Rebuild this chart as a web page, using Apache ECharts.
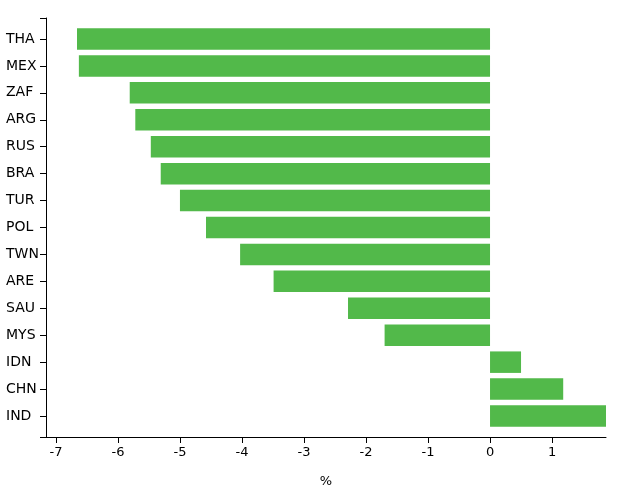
<!DOCTYPE html>
<html>
<head>
<meta charset="utf-8">
<script src="https://cdn.jsdelivr.net/npm/echarts@6/dist/echarts.min.js"></script>
<style>
html,body{margin:0;padding:0;background:#fff;}
#chart{width:627px;height:503px;}
</style>
</head>
<body>
<div id="chart"></div>
<script>
const categories = ['THA','MEX','ZAF','ARG','RUS','BRA','TUR','POL','TWN','ARE','SAU','MYS','IDN','CHN','IND'];
const values = [-6.66,-6.63,-5.81,-5.72,-5.47,-5.31,-5.00,-4.58,-4.03,-3.49,-2.29,-1.70,0.50,1.18,1.87];
const xMin = -7.16;
const xMax = 1.87;
const xName = '%';

const font = 'DejaVu Sans';
const chart = echarts.init(document.getElementById('chart'), null, {renderer: 'canvas'});
chart.setOption({
  animation: false,
  backgroundColor: '#fff',
  grid: [
    {left: 46, right: 21, top: 25.5, bottom: 73.5, containLabel: false},
    {left: 46, right: 21, top: 18, bottom: 66, containLabel: false}
  ],
  xAxis: [
    {gridIndex: 0, type: 'value', min: xMin, max: xMax, show: false},
    {
      gridIndex: 1, type: 'value', min: xMin, max: xMax,
      minInterval: 1, maxInterval: 1,
      position: 'bottom',
      name: xName, nameLocation: 'middle', nameGap: 38,
      nameTextStyle: {color: '#000', fontFamily: font, fontSize: 13},
      axisLine: {show: true, onZero: false, lineStyle: {color: '#000', width: 1}},
      axisTick: {show: true, length: 6, lineStyle: {color: '#000', width: 1}},
      axisLabel: {show: true, showMinLabel: false, showMaxLabel: false, color: '#000', fontFamily: font, fontSize: 13, margin: 9},
      splitLine: {show: false}
    }
  ],
  yAxis: [
    {
      gridIndex: 0, type: 'category', data: categories, inverse: true,
      boundaryGap: true,
      axisLine: {show: false, onZero: false},
      axisTick: {show: true, alignWithLabel: true, length: 6, lineStyle: {color: '#000', width: 1}},
      axisLabel: {color: '#000', fontFamily: font, fontSize: 14, margin: 40, align: 'left'},
      splitLine: {show: false}
    },
    {
      gridIndex: 1, type: 'value', min: 0, max: 1, interval: 1,
      position: 'left',
      axisLine: {show: true, onZero: false, lineStyle: {color: '#000', width: 1}},
      axisTick: {show: true, length: 6, lineStyle: {color: '#000', width: 1}},
      axisLabel: {show: false},
      splitLine: {show: false}
    }
  ],
  series: [
    {
      type: 'bar',
      xAxisIndex: 0, yAxisIndex: 0,
      data: values,
      barWidth: 21.5,
      itemStyle: {color: '#52b94a'}
    }
  ]
});
</script>
</body>
</html>
